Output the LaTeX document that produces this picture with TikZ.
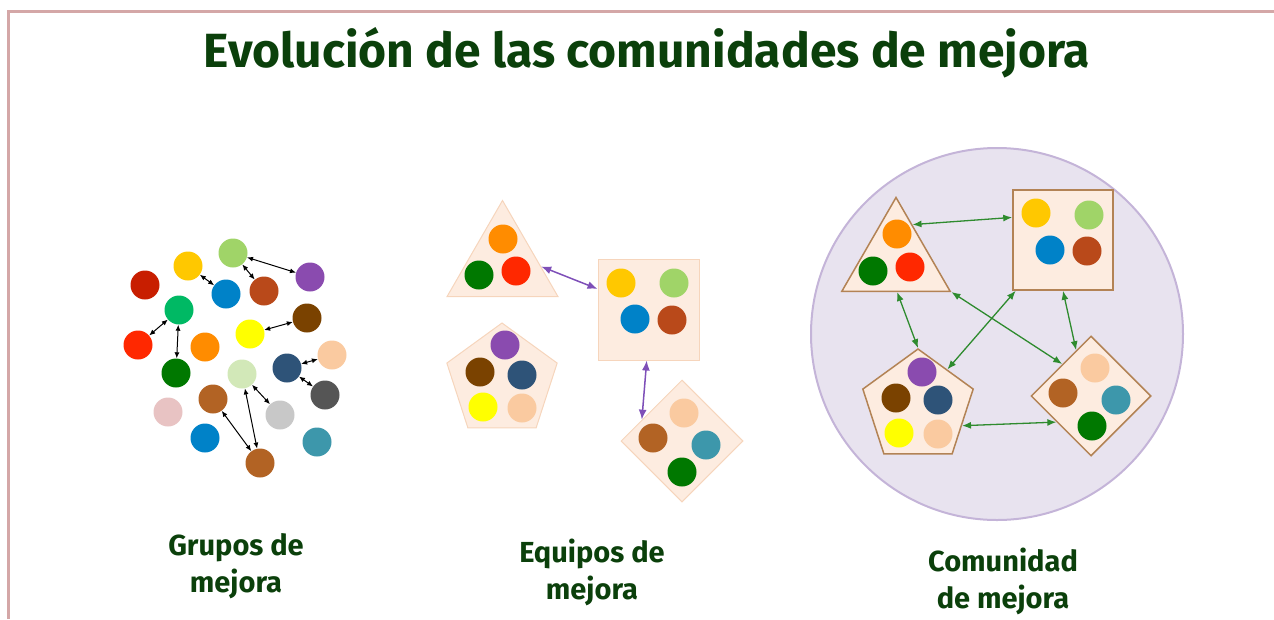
\documentclass[tikz,border=0pt]{standalone}
\usepackage{fontspec}
\setmainfont{Fira Sans}
\usepackage{tikz}
\usetikzlibrary{arrows.meta,shapes.geometric}

% colours of the members
\definecolor{titlegreen}{HTML}{0B400B}
\definecolor{framepink}{HTML}{D4A7A7}
\definecolor{lgreen}{HTML}{A0D468}
\definecolor{gold}{HTML}{FFC800}
\definecolor{darkred}{HTML}{C81E00}
\definecolor{mblue}{HTML}{0082C8}
\definecolor{rust}{HTML}{B9491A}
\definecolor{mpurple}{HTML}{8A4BAF}
\definecolor{mint}{HTML}{00B964}
\definecolor{mred}{HTML}{FF2800}
\definecolor{morange}{HTML}{FF8C00}
\definecolor{myellow}{HTML}{FFFF00}
\definecolor{mbrown}{HTML}{7A4200}
\definecolor{peach}{HTML}{FACAA0}
\definecolor{navy}{HTML}{2E5378}
\definecolor{dgreen}{HTML}{007800}
\definecolor{pale}{HTML}{D2E8B8}
\definecolor{dgray}{HTML}{555555}
\definecolor{copper}{HTML}{B26324}
\definecolor{mpink}{HTML}{E8C3C3}
\definecolor{lgray}{HTML}{C8C8C8}
\definecolor{teal}{HTML}{3D97AB}
% colours of the teams and the community
\definecolor{teamfill}{HTML}{FDECE0}
\definecolor{teamline}{HTML}{F6D5BC}
\definecolor{boxline}{HTML}{B38355}
\definecolor{commfill}{HTML}{E8E3EF}
\definecolor{commline}{HTML}{C4B4D8}
\definecolor{teamarrow}{HTML}{7E4FB8}
\definecolor{commarrow}{HTML}{2E8B2E}

\tikzset{
  dot/.style={circle, minimum size=29, inner sep=0pt, fill=#1},
  team/.style={fill=teamfill, draw=teamline, line width=1pt, inner sep=0pt},
  commteam/.style={fill=teamfill, draw=boxline, line width=1.5pt, inner sep=0pt},
  link/.style={<->, >={Latex[length=6pt, width=5pt]}, line width=1pt, black},
  teamlink/.style={<->, >={Latex[length=10pt, width=8pt]}, line width=1.5pt, teamarrow},
  commlink/.style={<->, >={Latex[length=9pt, width=7pt]}, line width=1.3pt, commarrow},
  caption/.style={text=titlegreen, font=\fontsize{29}{37}\selectfont\bfseries, align=center}
}

\begin{document}
\begin{tikzpicture}[x=1pt, y=-1pt]
    \useasboundingbox (0,0) rectangle (1274,619);

    % the frame and the title
    \draw[framepink, line width=3pt] (8.5,619) -- (8.5,11.5) -- (1274,11.5);
    \node[text=titlegreen, font=\fontsize{48}{54}\selectfont\bfseries, anchor=base] (title) at (647,67) {Evolución de las comunidades de mejora};

    % the members of the groups (nodes so that the arrows can use them)
    \node[dot=lgreen] (m1) at (233,253) {};
    \node[dot=gold] (m2) at (188,266) {};
    \node[dot=darkred] (m3) at (145,285) {};
    \node[dot=mblue] (m4) at (226,294) {};
    \node[dot=rust] (m5) at (264,291) {};
    \node[dot=mpurple] (m6) at (310,277) {};
    \node[dot=mint] (m7) at (179,310) {};
    \node[dot=mred] (m8) at (138,345) {};
    \node[dot=morange] (m9) at (205,347) {};
    \node[dot=myellow] (m10) at (250,334) {};
    \node[dot=mbrown] (m11) at (307,318) {};
    \node[dot=peach] (m12) at (332,355) {};
    \node[dot=navy] (m13) at (287,368) {};
    \node[dot=dgreen] (m14) at (176,373) {};
    \node[dot=pale] (m15) at (242,374) {};
    \node[dot=dgray] (m16) at (325,395) {};
    \node[dot=copper] (m17) at (213,399) {};
    \node[dot=mpink] (m18) at (168,412) {};
    \node[dot=lgray] (m19) at (280,415) {};
    \node[dot=mblue] (m20) at (205,438) {};
    \node[dot=teal] (m21) at (317,442) {};
    \node[dot=copper] (m22) at (260,463) {};

    % the arrows between the members
    \draw[link] (m1) -- (m6);
    \draw[link] (m1) -- (m5);
    \draw[link] (m2) -- (m4);
    \draw[link] (m7) -- (m8);
    \draw[link] (m7) -- (m14);
    \draw[link] (m10) -- (m11);
    \draw[link] (m13) -- (m12);
    \draw[link] (m13) -- (m16);
    \draw[link] (m15) -- (m19);
    \draw[link] (m15) -- (m22);
    \draw[link] (m17) -- (m22);

    % the teams
    \node[team, regular polygon, regular polygon sides=3, minimum size=128] (tri2) at (502.5,264.5) {};
    \node[team, rectangle, minimum size=101] (sq2) at (648.5,309.5) {};
    \node[team, regular polygon, regular polygon sides=5, minimum size=116] (pent2) at (502,381) {};
    \node[team, diamond, aspect=1, minimum size=122] (dia2) at (682,441) {};

    \node[dot=morange] (t1) at (503,239) {};
    \node[dot=dgreen] (t2) at (479,275) {};
    \node[dot=mred] (t3) at (516,271) {};
    \node[dot=gold] (t4) at (621,283) {};
    \node[dot=lgreen] (t5) at (674,283) {};
    \node[dot=mblue] (t6) at (635,319) {};
    \node[dot=rust] (t7) at (672,320) {};
    \node[dot=mpurple] (t8) at (505,345) {};
    \node[dot=mbrown] (t9) at (480,372) {};
    \node[dot=navy] (t10) at (522,375) {};
    \node[dot=myellow] (t11) at (483,407) {};
    \node[dot=peach] (t12) at (522,408) {};
    \node[dot=peach] (t13) at (684,413) {};
    \node[dot=copper] (t14) at (653,438) {};
    \node[dot=teal] (t15) at (706,445) {};
    \node[dot=dgreen] (t16) at (682,472) {};

    \draw[teamlink] (tri2.-3) -- (sq2.158);
    \draw[teamlink] (sq2.-92) -- (dia2.152);

    % the community
    \node[circle, minimum size=372, fill=commfill, draw=commline, line width=2pt] (comm) at (997,334) {};

    \node[commteam, regular polygon, regular polygon sides=3, minimum size=125] (tri3) at (896,260) {};
    \node[commteam, rectangle, minimum size=100] (sq3) at (1063,240) {};
    \node[commteam, regular polygon, regular polygon sides=5, minimum size=116] (pent3) at (918,407) {};
    \node[commteam, diamond, aspect=1, minimum size=120] (dia3) at (1091,396) {};

    \node[dot=morange] (c1) at (897,234) {};
    \node[dot=dgreen] (c2) at (873,271) {};
    \node[dot=mred] (c3) at (910,267) {};
    \node[dot=gold] (c4) at (1036,213) {};
    \node[dot=lgreen] (c5) at (1089,215) {};
    \node[dot=mblue] (c6) at (1050,250) {};
    \node[dot=rust] (c7) at (1087,251) {};
    \node[dot=mpurple] (c8) at (922,372) {};
    \node[dot=mbrown] (c9) at (896,398) {};
    \node[dot=navy] (c10) at (938,400) {};
    \node[dot=myellow] (c11) at (899,433) {};
    \node[dot=peach] (c12) at (938,434) {};
    \node[dot=peach] (c13) at (1095,368) {};
    \node[dot=copper] (c14) at (1063,393) {};
    \node[dot=teal] (c15) at (1116,400) {};
    \node[dot=dgreen] (c16) at (1092,426) {};

    \draw[commlink] (tri3.65) -- (sq3.156);
    \draw[commlink] (tri3.-88) -- (pent3.90);
    \draw[commlink] (tri3.-30) -- (dia3.132);
    \draw[commlink] (sq3.-133) -- (pent3.52);
    \draw[commlink] (sq3.-90) -- (dia3.108);
    \draw[commlink] (pent3.-23) -- (dia3.217);

    % the captions
    \node[caption] (grupos) at (236,566) {Grupos de\\mejora};
    \node[caption] (equipos) at (592,572) {Equipos de\\mejora};
    \node[caption] (comunidad) at (1003,581) {Comunidad\\de mejora};
\end{tikzpicture}
\end{document}
